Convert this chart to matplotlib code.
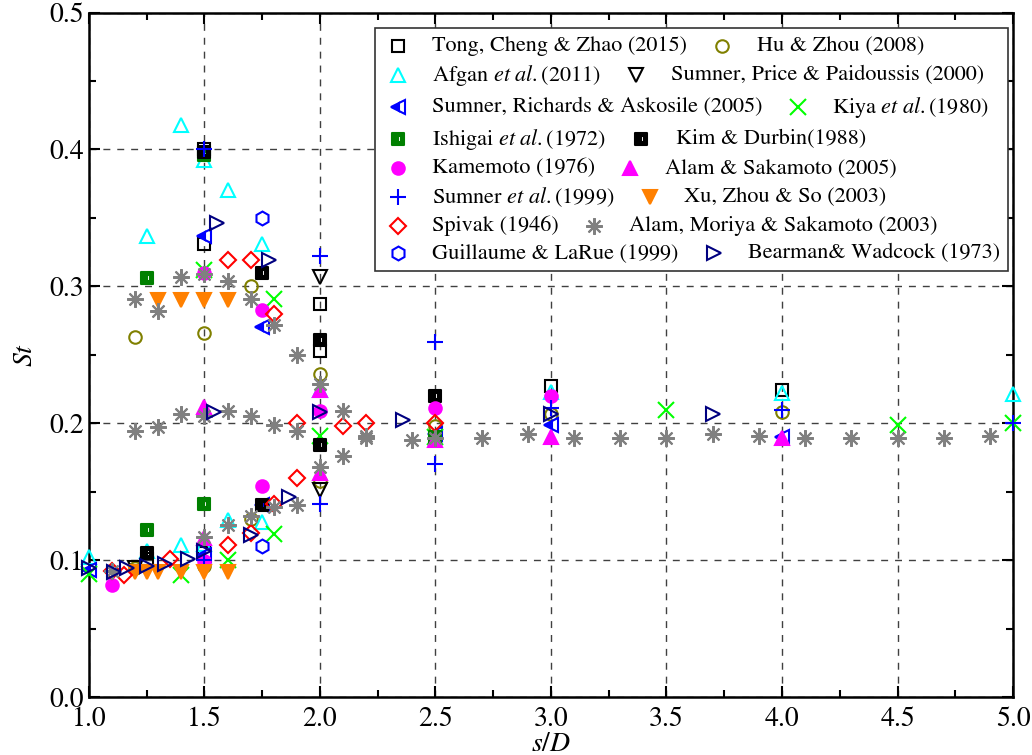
import matplotlib
matplotlib.use("Agg")
import matplotlib.pyplot as plt
from matplotlib.lines import Line2D
from matplotlib.path import Path
from matplotlib.ticker import MultipleLocator, FormatStrFormatter
from matplotlib.offsetbox import AnchoredOffsetbox, HPacker, VPacker, TextArea, DrawingArea

# ── data ─────────────────────────────────────────────────────────────────────
tong_x = [1.25, 1.5, 1.5, 1.5, 2.0, 2.0, 3.0, 4.0]
tong_y = [0.101, 0.400, 0.331, 0.105, 0.287, 0.253, 0.227, 0.224]

hu_x = [1.2, 1.2, 1.5, 1.5, 1.7, 1.7, 2.0, 2.0, 2.5, 3.0, 4.0]
hu_y = [0.263, 0.094, 0.266, 0.096, 0.300, 0.130, 0.236, 0.158, 0.198, 0.207, 0.208]

afgan_x = [1.0, 1.25, 1.25, 1.4, 1.4, 1.5, 1.5, 1.6, 1.6, 1.75, 1.75, 2.0, 3.0, 4.0, 5.0]
afgan_y = [0.102, 0.337, 0.107, 0.418, 0.111, 0.392, 0.112, 0.370, 0.129, 0.331, 0.128,
           0.224, 0.223, 0.222, 0.221]

spp_x = [1.2, 2.0, 2.0]
spp_y = [0.094, 0.307, 0.151]

sra_x = [1.0, 1.5, 1.5, 1.75, 1.75, 2.5, 3.0, 4.0]
sra_y = [0.093, 0.337, 0.104, 0.270, 0.140, 0.192, 0.199, 0.190]

kiya_x = [1.0, 1.4, 1.5, 1.6, 1.8, 1.8, 2.0, 2.5, 3.5, 4.5, 5.0]
kiya_y = [0.090, 0.089, 0.312, 0.100, 0.291, 0.119, 0.191, 0.190, 0.210, 0.199, 0.200]

ishigai_x = [1.25, 1.25, 1.5, 1.5, 2.5]
ishigai_y = [0.306, 0.122, 0.396, 0.141, 0.190]

kim_x = [1.25, 1.5, 1.75, 1.75, 2.0, 2.0, 2.5]
kim_y = [0.105, 0.398, 0.310, 0.140, 0.261, 0.184, 0.220]

kame_x = [1.1, 1.5, 1.5, 1.75, 1.75, 2.0, 2.5, 3.0]
kame_y = [0.082, 0.310, 0.099, 0.283, 0.154, 0.209, 0.211, 0.220]

alam05_x = [1.5, 1.5, 2.0, 2.0, 2.5, 3.0, 4.0]
alam05_y = [0.212, 0.116, 0.224, 0.164, 0.188, 0.190, 0.189]

sum99_x = [1.5, 1.5, 2.0, 2.0, 2.5, 2.5, 3.0, 4.0, 5.0]
sum99_y = [0.400, 0.100, 0.322, 0.141, 0.259, 0.170, 0.211, 0.210, 0.200]

xu_x = [1.3, 1.4, 1.5, 1.6, 1.2, 1.25, 1.3, 1.4, 1.5, 1.6]
xu_y = [0.290, 0.290, 0.290, 0.290, 0.091, 0.091, 0.091, 0.091, 0.091, 0.091]

spivak_x = [1.1, 1.15, 1.35, 1.6, 1.7, 1.8, 1.6, 1.7, 1.8, 1.9, 1.9, 2.1, 2.2, 2.5]
spivak_y = [0.092, 0.089, 0.101, 0.319, 0.319, 0.280, 0.111, 0.120, 0.141, 0.160, 0.200,
            0.198, 0.200, 0.200]

amo_x = [1.2, 1.3, 1.4, 1.5, 1.6, 1.7, 1.8, 1.9, 2.0, 2.1, 2.2, 2.2, 2.4, 2.5,
         1.2, 1.3, 1.4, 1.5, 1.6, 1.7, 1.8, 1.9,
         1.1, 1.5, 1.6, 1.7, 1.8, 1.9, 2.0, 2.1,
         2.7, 2.9, 3.1, 3.3, 3.5, 3.7, 3.9, 4.1, 4.3, 4.5, 4.7, 4.9]
amo_y = [0.291, 0.282, 0.307, 0.309, 0.304, 0.291, 0.272, 0.250, 0.229, 0.209, 0.191, 0.189, 0.188, 0.189,
         0.194, 0.197, 0.207, 0.205, 0.209, 0.205, 0.199, 0.194,
         0.092, 0.117, 0.126, 0.132, 0.139, 0.140, 0.168, 0.176,
         0.189, 0.192, 0.189, 0.189, 0.189, 0.192, 0.191, 0.189, 0.189, 0.189, 0.189, 0.191]

guil_x = [1.75, 1.75]
guil_y = [0.350, 0.110]

bear_x = [1.0, 1.11, 1.165, 1.25, 1.33, 1.43, 1.5, 1.54, 1.555, 1.7, 1.78, 1.865, 2.0, 2.36, 3.0, 3.7]
bear_y = [0.094, 0.091, 0.094, 0.096, 0.097, 0.101, 0.107, 0.208, 0.346, 0.118, 0.319, 0.146,
          0.208, 0.202, 0.207, 0.207]

# Times-like font bundled with matplotlib
plt.rcParams["font.family"] = ["STIXGeneral", "DejaVu Serif"]
plt.rcParams["mathtext.fontset"] = "stix"

# square with a white slit (half-filled look of the Origin symbols)
slit_sq = Path(
    [(-1, -1), (1, -1), (1, 1), (-1, 1), (-1, -1),
     (0.05, -0.55), (0.05, 0.55), (0.45, 0.55), (0.45, -0.55), (0.05, -0.55)],
    [Path.MOVETO, Path.LINETO, Path.LINETO, Path.LINETO, Path.CLOSEPOLY,
     Path.MOVETO, Path.LINETO, Path.LINETO, Path.LINETO, Path.CLOSEPOLY])

open_ = dict(markerfacecolor="none")
series = [
    ("tong", tong_x, tong_y, "Tong, Cheng & Zhao (2015)",
     dict(marker="s", color="black", ms=8, **open_)),
    ("hu", hu_x, hu_y, "Hu & Zhou (2008)",
     dict(marker="o", color="#808000", ms=9, **open_)),
    ("afgan", afgan_x, afgan_y, r"Afgan $\mathit{et\ al.}$(2011)",
     dict(marker="^", color="#00FFFF", ms=10, **open_)),
    ("spp", spp_x, spp_y, "Sumner, Price & Paidoussis (2000)",
     dict(marker="v", color="black", ms=10, **open_)),
    ("sra", sra_x, sra_y, "Sumner, Richards & Askosile (2005)",
     dict(marker="<", color="#0000FF", ms=10, fillstyle="left", markerfacecoloralt="white")),
    ("kiya", kiya_x, kiya_y, r"Kiya $\mathit{et\ al.}$(1980)",
     dict(marker="x", color="#00FF00", ms=11)),
    ("ishigai", ishigai_x, ishigai_y, r"Ishigai $\mathit{et\ al.}$(1972)",
     dict(marker=slit_sq, color="#008000", ms=9)),
    ("kim", kim_x, kim_y, "Kim & Durbin(1988)",
     dict(marker=slit_sq, color="black", ms=9)),
    ("kame", kame_x, kame_y, "Kamemoto (1976)",
     dict(marker="o", color="#FF00FF", ms=9)),
    ("alam05", alam05_x, alam05_y, "Alam & Sakamoto (2005)",
     dict(marker="^", color="#FF00FF", ms=10)),
    ("sum99", sum99_x, sum99_y, r"Sumner $\mathit{et\ al.}$(1999)",
     dict(marker="+", color="#0000FF", ms=12)),
    ("xu", xu_x, xu_y, "Xu, Zhou & So (2003)",
     dict(marker="v", color="#FF8000", ms=10)),
    ("spivak", spivak_x, spivak_y, "Spivak (1946)",
     dict(marker="D", color="#FF0000", ms=8, **open_)),
    ("amo", amo_x, amo_y, "Alam, Moriya & Sakamoto (2003)",
     dict(marker=(8, 2, 0), color="#808080", ms=12)),
    ("guil", guil_x, guil_y, "Guillaume & LaRue (1999)",
     dict(marker="h", color="#0000FF", ms=10, **open_)),
    ("bear", bear_x, bear_y, "Bearman& Wadcock (1973)",
     dict(marker=">", color="#000080", ms=10, **open_)),
]

fig = plt.figure(figsize=(10.32, 7.55), dpi=100)
ax = fig.add_axes([0.0862, 0.0768, 0.8954, 0.9066])

for key, xs, ys, label, st in series:
    ax.plot(xs, ys, linestyle="none", mew=1.5, clip_on=False, zorder=3, **st)

ax.set_xlim(1.0, 5.0)
ax.set_ylim(0.0, 0.5)
ax.xaxis.set_major_locator(MultipleLocator(0.5))
ax.xaxis.set_minor_locator(MultipleLocator(0.25))
ax.yaxis.set_major_locator(MultipleLocator(0.1))
ax.yaxis.set_minor_locator(MultipleLocator(0.05))
ax.xaxis.set_major_formatter(FormatStrFormatter("%.1f"))
ax.yaxis.set_major_formatter(FormatStrFormatter("%.1f"))
ax.tick_params(which="both", direction="in", top=True, right=True, labelsize=20, width=1.5)
ax.tick_params(which="major", length=8)
ax.tick_params(which="minor", length=5)
ax.tick_params(axis="x", pad=7)
for sp in ax.spines.values():
    sp.set_linewidth(1.8)
ax.grid(True, which="major", linestyle=(0, (5, 5)), color="#404040", linewidth=1.0)
ax.set_axisbelow(True)

ax.set_xlabel("$\\mathit{s/D}$", fontsize=20, labelpad=0)
ax.set_ylabel("$\\mathit{St}$", fontsize=20, labelpad=8)

# ── legend: two entries per row, laid out like the original ──────────────────
def marker_box(st):
    da = DrawingArea(22, 14, 0, 0)
    da.add_artist(Line2D([11], [7], linestyle="none", mew=1.5, **st))
    return da

tp = dict(fontsize=16)
rows = []
for i in range(0, len(series), 2):
    a, b = series[i], series[i + 1]
    rows.append(HPacker(children=[marker_box(a[4]), TextArea(a[3], textprops=tp),
                                  marker_box(b[4]), TextArea(b[3], textprops=tp)],
                        align="center", pad=0, sep=14))
box = VPacker(children=rows, align="left", pad=0, sep=5)
leg = AnchoredOffsetbox(loc="upper right", child=box, pad=0.55, borderpad=0,
                        frameon=True, bbox_to_anchor=(0.9946, 0.977),
                        bbox_transform=ax.transAxes)
leg.patch.set_boxstyle("square,pad=0")
leg.patch.set_edgecolor("#333333")
leg.patch.set_linewidth(1.2)
leg.set_zorder(5)
ax.add_artist(leg)

fig.savefig("out.png", dpi=100)
